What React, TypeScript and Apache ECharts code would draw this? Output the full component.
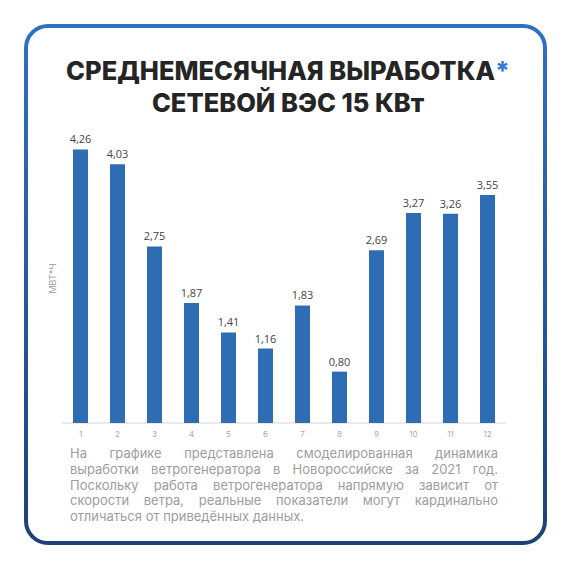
import { useEffect, useRef } from 'react';
import * as echarts from 'echarts';

const months = ['1', '2', '3', '4', '5', '6', '7', '8', '9', '10', '11', '12'];
const output = [4.26, 4.03, 2.75, 1.87, 1.41, 1.16, 1.83, 0.8, 2.69, 3.27, 3.26, 3.55];
const titleLines = ['СРЕДНЕМЕСЯЧНАЯ ВЫРАБОТКА', 'СЕТЕВОЙ ВЭС 15 КВт'];
const unitName = 'МВТ*Ч';
const noteLines = [
  'На графике представлена смоделированная динамика',
  'выработки ветрогенератора в Новороссийске за 2021 год.',
  'Поскольку работа ветрогенератора напрямую зависит от',
  'скорости ветра, реальные показатели могут кардинально',
  'отличаться от приведённых данных.',
];

const BAR = '#2e6db4';
const NOTE_FONT = '400 13px Inter';
const NOTE_LEFT = 70;
const NOTE_RIGHT = 498;
const NOTE_TOP = 453;
const NOTE_STEP = 15.8;

// lay out the footnote as justified text (last line left-aligned)
function noteGraphics() {
  const ctx = document.createElement('canvas').getContext('2d')!;
  ctx.font = NOTE_FONT;
  const out: any[] = [];
  noteLines.forEach((line, i) => {
    const y = NOTE_TOP + i * NOTE_STEP;
    const style = { fill: '#9d9d9d', font: NOTE_FONT, textVerticalAlign: 'middle' };
    if (i === noteLines.length - 1) {
      out.push({ type: 'text', x: NOTE_LEFT, y, style: { ...style, text: line } });
      return;
    }
    const words = line.split(' ');
    const widths = words.map(w => ctx.measureText(w).width);
    const total = widths.reduce((a, b) => a + b, 0);
    const gap = (NOTE_RIGHT - NOTE_LEFT - total) / (words.length - 1);
    let x = NOTE_LEFT;
    words.forEach((w, j) => {
      out.push({ type: 'text', x, y, style: { ...style, text: w } });
      x += widths[j] + gap;
    });
  });
  return out;
}

export default function App() {
  const ref = useRef<HTMLDivElement | null>(null);

  useEffect(() => {
    if (!ref.current) return;
    const chart = echarts.init(ref.current, undefined, { renderer: 'svg' });

    const titleFont = { fontFamily: 'Inter', fontWeight: 800, fontSize: 25.5, lineHeight: 31.5 };

    chart.setOption({
      animation: false,
      backgroundColor: '#ffffff',
      grid: { left: 62, right: 64, top: 134, bottom: 147 },
      xAxis: {
        type: 'category',
        data: months,
        axisLine: { lineStyle: { color: '#e3e3e3', width: 1.5 } },
        axisTick: { show: false },
        axisLabel: { color: '#aaaaaa', fontSize: 8, fontFamily: 'Inter', margin: 7 },
      },
      yAxis: {
        type: 'value',
        min: 0,
        max: 4.5,
        name: unitName,
        nameLocation: 'middle',
        nameRotate: 90,
        nameGap: 5,
        nameTextStyle: { color: '#9a9a9a', fontSize: 9, fontFamily: 'Inter' },
        axisLine: { show: false },
        axisTick: { show: false },
        axisLabel: { show: false },
        splitLine: { show: false },
      },
      series: [
        {
          type: 'bar',
          data: output,
          barWidth: 15,
          itemStyle: { color: BAR },
          label: {
            show: true,
            position: 'top',
            distance: 5,
            color: '#444444',
            fontSize: 11,
            fontFamily: 'Open Sans',
            formatter: (p: { value: number }) => p.value.toFixed(2).replace('.', ','),
          },
        },
      ],
      graphic: [
        {
          type: 'rect',
          shape: { x: 26, y: 26, width: 519, height: 517, r: 22 },
          style: {
            fill: 'none',
            lineWidth: 4,
            stroke: new echarts.graphic.LinearGradient(0, 0, 0, 1, [
              { offset: 0, color: '#2f72c2' },
              { offset: 1, color: '#1e4275' },
            ]),
          },
          silent: true,
        },
        {
          type: 'text',
          x: 288,
          y: 86.5,
          style: {
            text: `{t|${titleLines[0]}}{s|*}\n{t|${titleLines[1]}}`,
            align: 'center',
            verticalAlign: 'middle',
            rich: {
              t: { ...titleFont, fill: '#252525' },
              s: { ...titleFont, fill: '#2f7ad6' },
            },
          },
        },
        ...noteGraphics(),
      ],
    });

    return () => chart.dispose();
  }, []);

  return (
    <div
      ref={ref}
      style={{ position: 'absolute', left: 0, top: 0, width: 570, height: 570 }}
    />
  );
}
